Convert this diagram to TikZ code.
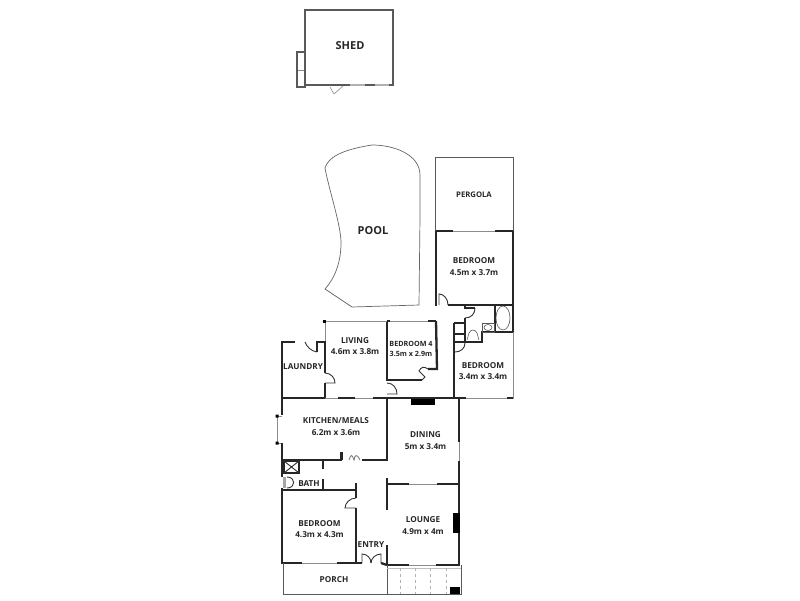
\documentclass[tikz,border=0pt]{standalone}
\usepackage{fontspec}
\setmainfont{Open Sans}
\tikzset{
    wall/.style={draw=black!85,line width=2.3pt},
    thinwall/.style={draw=black!45,line width=0.6pt},
    outline/.style={draw=black!65,line width=0.9pt},
    doorline/.style={draw=black!80,line width=0.9pt},
    roomlabel/.style={font=\bfseries\fontsize{8.2}{10}\selectfont,text=black!85,inner sep=0pt},
    biglabel/.style={font=\bfseries\fontsize{11}{13}\selectfont,text=black!85,inner sep=0pt}
}
\begin{document}
\begin{tikzpicture}[x=1pt,y=-1pt]
\useasboundingbox (0,0) rectangle (800,600);

% Shed
\draw[outline,line width=1.1pt] (305,10) rectangle (393,85);
\draw[outline,line width=1.1pt] (297,52) rectangle (305,87);
\draw[thinwall] (298,70) -- (304,70);
\draw[thinwall] (330,87) -- (334,94) -- (343,86);
\draw[draw=black!30,line width=2pt] (350,85) -- (365,85) (375,85) -- (389,85);
\node[biglabel] (shed) at (350,46) {SHED};

% Pool
\draw[thinwall,draw=black!60,line width=0.7pt] (325,168)
    .. controls (328,158) and (340,150) .. (372,145)
    .. controls (395,145) and (420,155) .. (420,175)
    -- (420,217) -- (419,305) -- (352,307) -- (325,289)
    .. controls (335,278) and (341,262) .. (341,243)
    .. controls (341,225) and (329,190) .. cycle;
\node[biglabel] (pool) at (373,231) {POOL};

% Pergola
\draw[outline] (435,231) -- (435,157) -- (513,157) -- (513,231);
\node[roomlabel,font=\bfseries\fontsize{7.7}{9}\selectfont] (pergola) at (474,195) {PERGOLA};

% Back bedroom
\draw[wall] (436,231) -- (453,231) (495,231) -- (513,231);
\draw[thinwall] (453,231) -- (495,231);
\draw[wall] (436,231) -- (436,306);
\draw[wall] (513,231) -- (513,332);
\draw[wall] (448,305) -- (513,305);
\draw[doorline] (439,305) -- (439,294) .. controls (444,294) and (448,299) .. (448,305);
\node[roomlabel,align=center] (bed1) at (474,266.5) {BEDROOM\\[1.5pt]4.5m x 3.7m};

% Bathroom
\draw[wall,line width=1.6pt] (465,305) -- (465,308) -- (475,308);
\draw[doorline] (475,308) .. controls (475,314) and (471,318) .. (465,318);
\draw[wall,line width=1.6pt] (465,318) -- (465,342);
\draw[wall,line width=1.6pt] (454,323) -- (465,323) (454,323) -- (454,398);
\draw[wall,line width=1.6pt] (454,334) -- (465,334);
\draw[wall,line width=1.6pt] (454,342) -- (482,342) -- (482,332) -- (513,332);
\draw[wall,line width=1.2pt] (495,306) -- (495,332);
\draw[outline,line width=0.6pt] (503,318) ellipse (7 and 12);
\draw[outline,line width=0.6pt] (482,323) rectangle (494,332);
\draw[outline,line width=0.6pt] (488,327.5) ellipse (4 and 3);
\draw[outline,line width=0.6pt] (467,340) -- (469,333) .. controls (471,329) and (475,329) .. (477,333) -- (479,340);
\draw[doorline] (465,343) .. controls (465,348) and (461,352) .. (455,352);

% Side bedroom
\draw[thinwall] (513,332) -- (513,398) -- (460,398);
\draw[wall] (507,398) -- (513,398);
\node[roomlabel,align=center] (bed2) at (483,371) {BEDROOM\\[1.5pt]3.4m x 3.4m};

% Bedroom 4
\draw[thinwall] (390,321) -- (428,321);
\draw[wall] (387,321) -- (390,321) (428,321) -- (436,321);
\draw[wall] (436,321) -- (437,369) -- (428,369);
\draw[wall] (387,321) -- (387,380) -- (422,380);
\draw[doorline] (428,369) .. controls (424,366) and (421,367) .. (419,371) -- (425,377) -- (422,380);
\draw[doorline] (387,383) .. controls (393,383) and (397,388) .. (397,394) -- (387,394);
\node[roomlabel,align=center,font=\bfseries\fontsize{7.2}{8.5}\selectfont] (bed4) at (411,348.5) {BEDROOM 4\\[1.5pt]3.5m x 2.9m};

% Living
\draw[thinwall] (324,321) -- (387,321) (325,321) -- (325,342);
\fill[black] (323,320) rectangle (326,323);
\node[roomlabel,align=center] (living) at (355,346) {LIVING\\[1.5pt]4.6m x 3.8m};

% Laundry
\draw[wall] (295,342) -- (282,342) -- (282,415);
\draw[wall] (317,352) -- (317,342) -- (325,342) -- (325,373);
\draw[wall] (325,383) -- (325,398) -- (282,398);
\draw[doorline] (305,342) .. controls (307,347) and (311,351) .. (317,352);
\draw[doorline] (325,373) .. controls (331,373) and (335,378) .. (335,383) -- (325,383);
\node[roomlabel] (laundry) at (303,367) {LAUNDRY};

% Kitchen
\draw[wall] (338,398) -- (355,398) (373,398) -- (466,398);
\draw[thinwall] (325,398) -- (338,398) (355,398) -- (373,398);
\draw[wall] (387,398) -- (387,460) -- (362,460);
\draw[wall] (282,460) -- (342,460);
\draw[wall,line width=3pt] (341,452) -- (341,460);
\draw[doorline,draw=black!50] (349,460) .. controls (351,454) and (352,454) .. (354,460) .. controls (355,454) and (357,454) .. (360,460);
\draw[thinwall] (282,416) -- (277,416) -- (277,443) -- (282,443);
\fill[black] (275.5,414.5) rectangle (278.5,417.5) (275.5,441.5) rectangle (278.5,444.5);
\draw[wall] (282,443) -- (282,477);
\node[roomlabel,align=center] (kitchen) at (336,426.5) {KITCHEN/MEALS\\[1.5pt]6.2m x 3.6m};

% Bath
\draw[wall,line width=1.4pt] (284,461) rectangle (299,473);
\draw[doorline] (284,461) -- (299,473) (284,473) -- (299,461);
\draw[draw=black!35,line width=3pt] (284,477) -- (284,488);
\draw[doorline] (287,477) .. controls (296,477) and (296,488) .. (287,488);
\draw[wall,line width=1.2pt] (323,459) -- (323,469);
\draw[wall] (323,479) -- (323,490);
\node[roomlabel] (bath) at (309,484) {BATH};

% Front bedroom
\draw[wall] (282,488) -- (282,563) -- (302,563);
\draw[wall] (282,490) -- (356,490);
\draw[wall] (337,563) -- (362,563);
\draw[thinwall] (302,563) -- (337,563);
\draw[wall] (356,483) -- (356,498);
\draw[wall] (356,508) -- (356,563);
\draw[doorline] (356,498) .. controls (350,498) and (345,503) .. (345,508) -- (356,508);
\node[roomlabel,align=center] (bed3) at (319.5,529) {BEDROOM\\[1.5pt]4.3m x 4.3m};

% Entry
\draw[wall] (381,563) -- (387,565);
\draw[wall] (387,545) -- (387,565);
\draw[doorline] (362,563) -- (362,554) .. controls (367,554) and (371,558) .. (371,563);
\draw[doorline] (381,563) -- (381,554) .. controls (376,554) and (371,558) .. (371,563);
\node[roomlabel] (entry) at (371,545) {ENTRY};

% Dining
\draw[wall] (459,398) -- (459,442);
\draw[thinwall] (459,442) -- (459,461);
\draw[wall] (459,461) -- (459,513);
\fill[black] (411,399) rectangle (435,405);
\node[roomlabel,align=center] (dining) at (425.5,440.5) {DINING\\[1.5pt]5m x 3.4m};

% Lounge
\draw[wall] (387,478) -- (387,510);
\draw[wall] (387,484) -- (409,484) (437,484) -- (459,484);
\draw[thinwall] (409,484) -- (437,484);
\fill[black] (453,513) rectangle (460,533);
\draw[wall] (459,533) -- (459,565);
\draw[wall] (387,565) -- (409,565) (436,565) -- (460,565);
\draw[thinwall] (409,565) -- (436,565);
\node[roomlabel,align=center] (lounge) at (423,525.5) {LOUNGE\\[1.5pt]4.9m x 4m};

% Porch
\draw[outline,line width=0.7pt] (283,563) -- (283,594) -- (461,594) -- (461,565);
\draw[outline,line width=0.7pt] (387,565) -- (387,594);
\draw[thinwall,draw=black!25] (387,568) -- (461,568);
\foreach \stepx in {400,415,430,446}
    \draw[thinwall,draw=black!30,dashed] (\stepx,568) -- (\stepx,594);
\fill[black] (450,587) rectangle (460,594);
\node[roomlabel] (porch) at (334,580) {PORCH};

\end{tikzpicture}
\end{document}
